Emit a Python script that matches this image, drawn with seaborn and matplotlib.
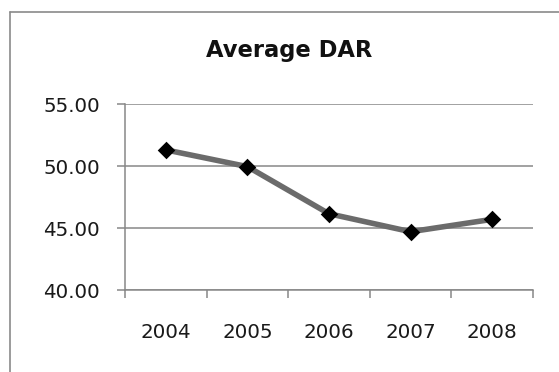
import matplotlib
matplotlib.use("Agg")
import matplotlib.pyplot as plt
from matplotlib.lines import Line2D
import seaborn as sns
import pandas as pd

# Chart data
years = ["2004", "2005", "2006", "2007", "2008"]
avg_dar = [51.30, 49.95, 46.15, 44.70, 45.70]
y_ticks = [40, 45, 50, 55]
title = "Average DAR"

df = pd.DataFrame({"year": years, "dar": avg_dar})

sns.set_theme(style="white")
plt.rcParams["font.family"] = ["DejaVu Sans"]

W, H = 559, 372
fig = plt.figure(figsize=(W / 100, H / 100), dpi=100)
fig.patch.set_facecolor("white")

# plot area in pixel terms: x 125..533, y 104..290
ax = fig.add_axes([125 / W, 1 - 290 / H, (533 - 125) / W, (290 - 104) / H])
ax.set_facecolor("white")

grid_c = "#878787"
sns.lineplot(data=df, x="year", y="dar", ax=ax, color="#6b6b6b",
             linewidth=4.0, sort=False, zorder=3)
sns.scatterplot(data=df, x="year", y="dar", ax=ax, marker="D", s=80,
                color="black", edgecolor="black", linewidth=0, zorder=4)

ax.set_xlim(-0.5, len(years) - 0.5)
ax.set_ylim(40, 55)
ax.set_yticks(y_ticks)
ax.set_yticklabels([f"{v:.2f}" for v in y_ticks])
ax.yaxis.grid(True, color=grid_c, linewidth=1.1)
ax.xaxis.grid(False)
ax.set_axisbelow(True)
ax.set_xlabel("")
ax.set_ylabel("")

# category labels centred, tick marks on category boundaries
ax.set_xticks(range(len(years)))
ax.set_xticklabels(years)
ax.set_xticks([i - 0.5 for i in range(len(years) + 1)], minor=True)
ax.tick_params(axis="x", which="major", length=0, pad=23.5,
               labelsize=14.3, labelcolor="#1a1a1a")
ax.tick_params(axis="x", which="minor", length=6, width=1.1,
               color=grid_c, direction="out", bottom=True)
ax.tick_params(axis="y", length=6, width=1.1, color=grid_c,
               direction="out", pad=12, labelsize=14.3, labelcolor="#1a1a1a",
               left=True)

for side in ("top", "right"):
    ax.spines[side].set_visible(False)
for side in ("left", "bottom"):
    ax.spines[side].set_color(grid_c)
    ax.spines[side].set_linewidth(1.1)

fig.text(289 / W, 1 - 57 / H, title, ha="center", va="baseline",
         fontsize=16.3, fontweight="bold", color="#111111")

# chart frame (top and left edges visible)
frame_c = "#8a8a8a"
fig.add_artist(Line2D([10 / W, 1.0], [1 - 12 / H, 1 - 12 / H],
                      transform=fig.transFigure, color=frame_c, linewidth=1.2))
fig.add_artist(Line2D([10 / W, 10 / W], [0.0, 1 - 12 / H],
                      transform=fig.transFigure, color=frame_c, linewidth=1.2))

fig.savefig("out.png", dpi=100, facecolor="white")
